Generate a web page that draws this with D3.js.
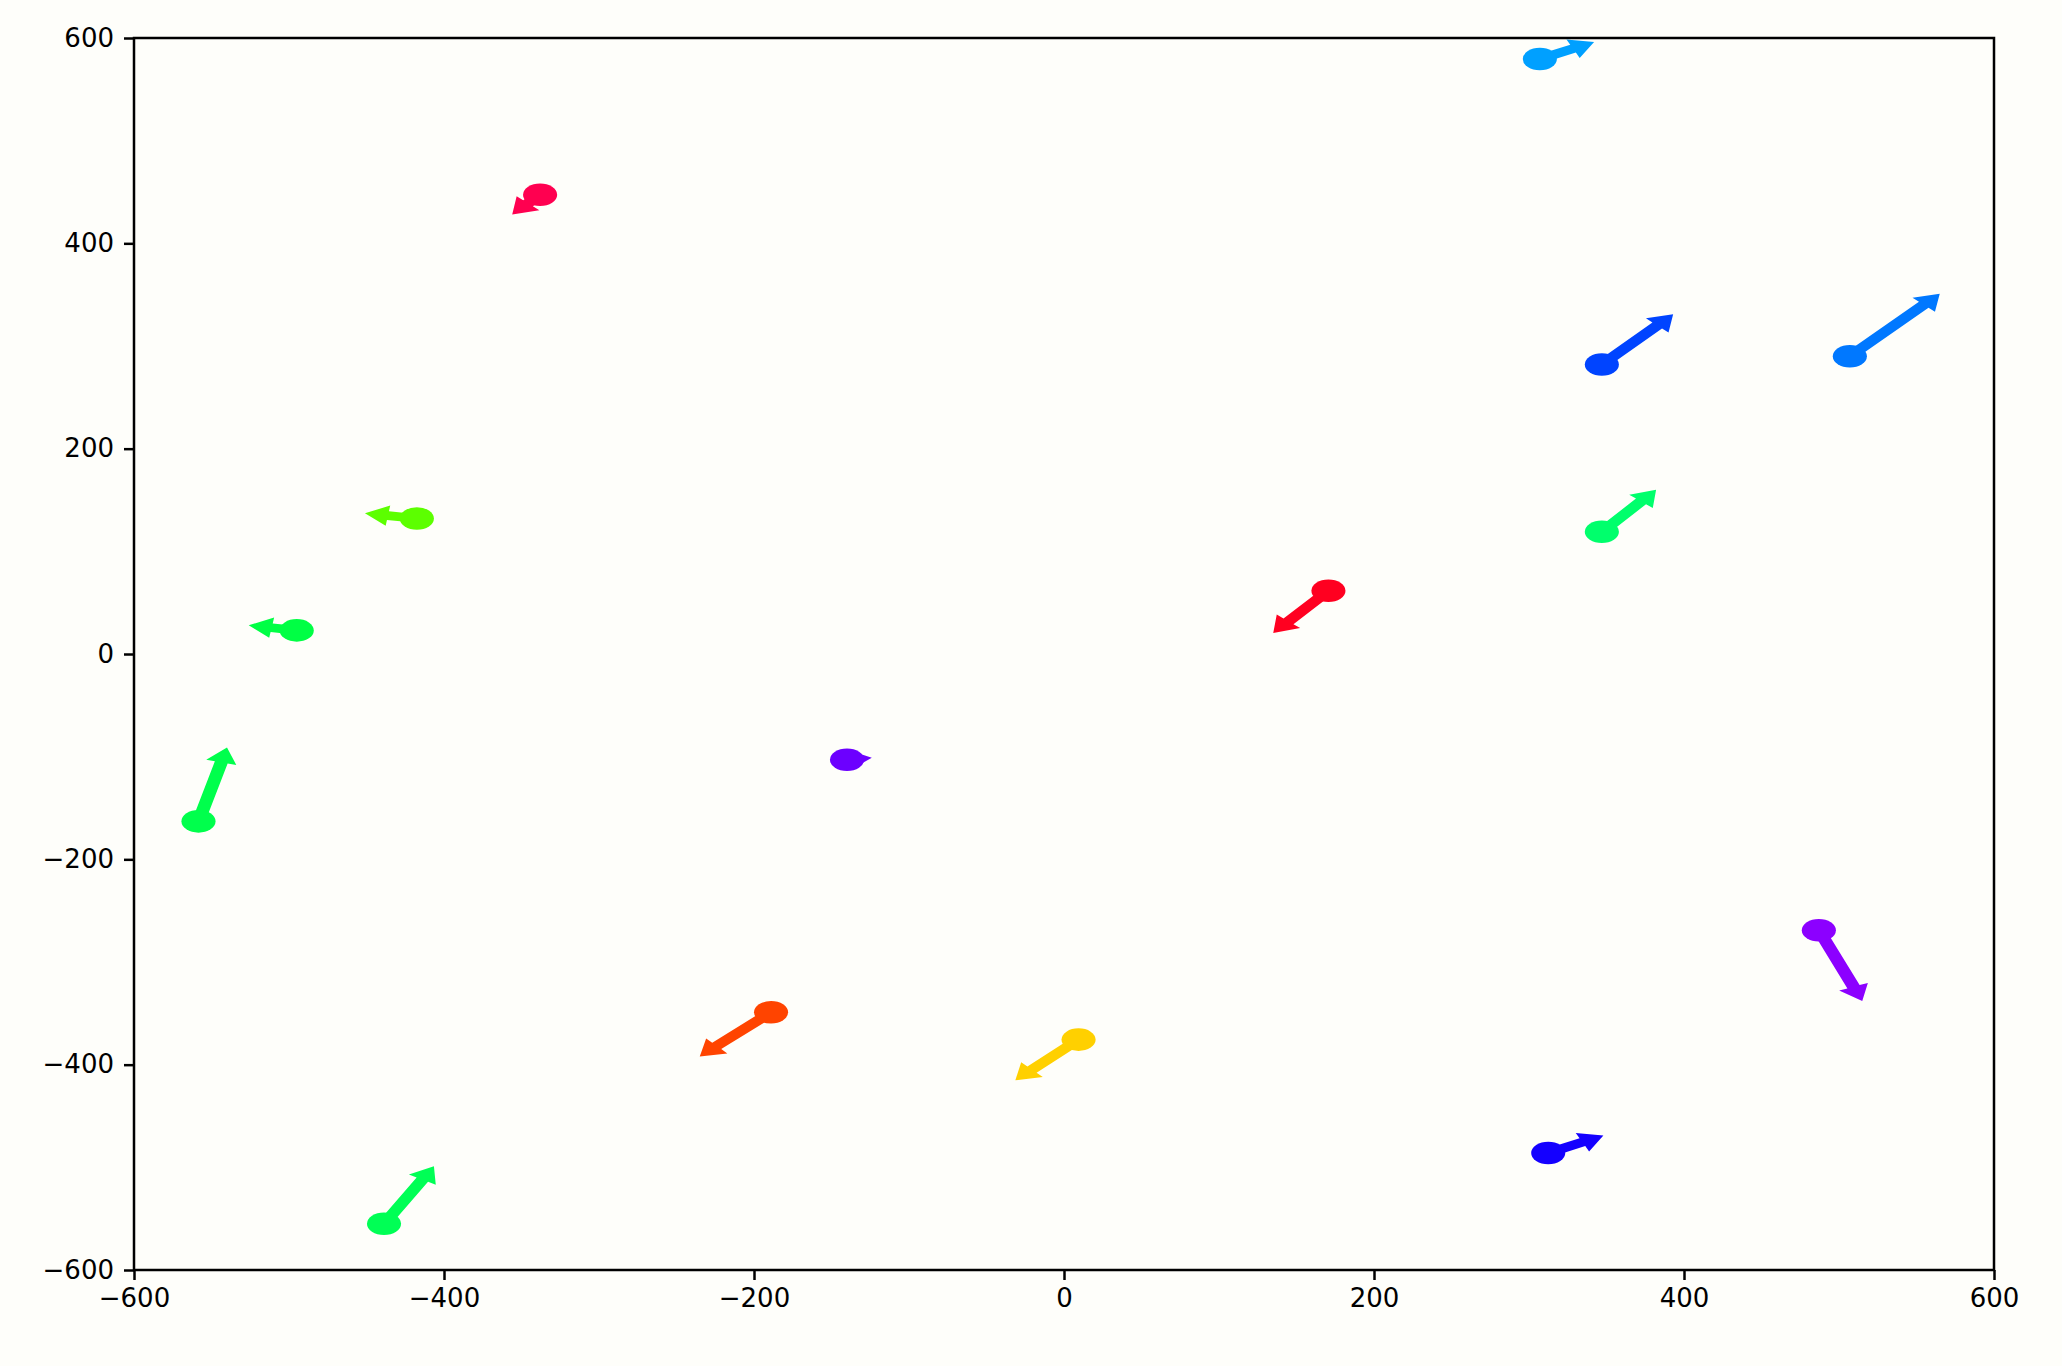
<!DOCTYPE html>
<html>
<head>
<meta charset="utf-8">
<script src="https://cdn.jsdelivr.net/npm/d3@7"></script>
<style>
  html, body { margin: 0; padding: 0; background: #fefefa; }
  svg { display: block; }
  .tick text { font-family: "DejaVu Sans", sans-serif; }
</style>
</head>
<body>
<svg id="chart" width="2062" height="1366"></svg>
<script>
// ---- data ----
const startX = [307, -338, 347, 507, -417.5, 347, 170.6, -495, -140, -558.4, 487, -189, 9.4, 312.4, -438.7];
const startY = [579.5, 447.4, 282, 290, 132, 119, 61.6, 23, -103, -163, -269, -349, -375.6, -486, -555];
const tipX   = [342, -356, 393, 565, -451, 382, 135, -526, -124, -540, 515, -235, -31.4, 348, -406.5];
const tipY   = [596, 428, 331, 351, 137, 160, 20.5, 28, -101, -91, -338, -392, -415.3, -469, -499];
const palette = ["#00a0ff", "#ff0050", "#0044ff", "#0078ff", "#5cff00", "#00ff6c", "#ff0020",
                 "#00ff44", "#6c00ff", "#00ff4c", "#8c00ff", "#ff4400", "#ffd000", "#1400ff", "#00ff55"];
const xTicks = [-600, -400, -200, 0, 200, 400, 600];
const yTicks = [-600, -400, -200, 0, 200, 400, 600];

// ---- layout ----
const svg = d3.select("#chart");
const L = 134, R = 1994, T = 38, B = 1270;
const x = d3.scaleLinear().domain([-600, 600]).range([L, R]);
const y = d3.scaleLinear().domain([-600, 600]).range([B, T]);

const radius = 11;        // data units
const shaftW = 8.5;       // data units
const headW = 20;         // data units
const headL = 15;         // data units

const items = startX.map((sx, i) => ({sx, sy: startY[i], tx: tipX[i], ty: tipY[i], c: palette[i]}));

function arrowPts(d) {
  const dx = d.tx - d.sx, dy = d.ty - d.sy;
  const len = Math.hypot(dx, dy);
  const ux = dx / len, uy = dy / len;
  const nx = -uy, ny = ux;
  const hl = Math.min(headL, len);
  const bx = d.tx - ux * hl, by = d.ty - uy * hl;
  const pts = [
    [d.sx + nx * shaftW / 2, d.sy + ny * shaftW / 2],
    [bx + nx * shaftW / 2, by + ny * shaftW / 2],
    [bx + nx * headW / 2, by + ny * headW / 2],
    [d.tx, d.ty],
    [bx - nx * headW / 2, by - ny * headW / 2],
    [bx - nx * shaftW / 2, by - ny * shaftW / 2],
    [d.sx - nx * shaftW / 2, d.sy - ny * shaftW / 2]
  ];
  return pts.map(p => [x(p[0]), y(p[1])].join(",")).join(" ");
}

const plot = svg.append("g");
plot.selectAll("polygon.arrow").data(items).join("polygon")
  .attr("class", "arrow")
  .attr("points", arrowPts)
  .attr("fill", d => d.c);

plot.selectAll("ellipse.dot").data(items).join("ellipse")
  .attr("class", "dot")
  .attr("cx", d => x(d.sx))
  .attr("cy", d => y(d.sy))
  .attr("rx", x(radius) - x(0))
  .attr("ry", y(0) - y(radius))
  .attr("fill", d => d.c);

// ---- axes ----
const fontSize = 26;
const xAxis = svg.append("g").attr("transform", `translate(0,${B})`)
  .call(d3.axisBottom(x).tickValues(xTicks).tickSize(10).tickPadding(9));
const yAxis = svg.append("g").attr("transform", `translate(${L},0)`)
  .call(d3.axisLeft(y).tickValues(yTicks).tickSize(10).tickPadding(10));
[xAxis, yAxis].forEach(g => {
  g.select(".domain").remove();
  g.selectAll(".tick line").attr("stroke", "#000").attr("stroke-width", 2.5);
  g.selectAll(".tick text").attr("fill", "#000").style("font-size", fontSize + "px");
});

// frame
svg.append("rect")
  .attr("x", L).attr("y", T).attr("width", R - L).attr("height", B - T)
  .attr("fill", "none").attr("stroke", "#000").attr("stroke-width", 2.5);
</script>
</body>
</html>
